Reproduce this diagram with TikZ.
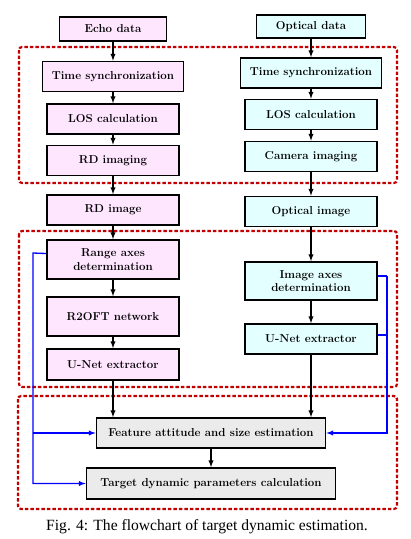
\documentclass[tikz,border=0pt]{standalone}
\usepackage{tikz}
\usepackage{fontspec}
\newfontfamily\capfont{Liberation Serif}
\usetikzlibrary{positioning, calc}

\definecolor{pinkfill}{RGB}{255,230,255}
\definecolor{cyanfill}{RGB}{228,255,255}
\definecolor{grayfill}{RGB}{235,235,235}
\definecolor{darkred}{RGB}{195,0,0}

\begin{document}
\begin{tikzpicture}[x=1pt, y=1pt]
		\tikzstyle{box}=[
		draw,
		line width=1.7pt,
		rectangle,
		align=center,
		font=\fontsize{11.5}{13.5}\selectfont\bfseries,
		minimum width=132pt,
		minimum height=30pt]
		\tikzstyle{pinkbox}=[box, fill=pinkfill]
		\tikzstyle{cyanbox}=[box, fill=cyanfill]
		\tikzstyle{graybox}=[box, fill=grayfill]
		\tikzstyle{arrow}=[-latex, line width=1.3pt]
		\tikzstyle{blueline}=[-latex, draw=blue, line width=1.3pt]
		\tikzstyle{group}=[
		draw=darkred,
		line width=2.2pt,
		dash pattern=on 3.5pt off 2pt,
		rounded corners=3pt]
		\useasboundingbox (0,0) rectangle (411,-539);
		%
		\node[pinkbox, minimum width=107pt, minimum height=24pt] (echo) at (113,-29) {Echo data};
		\node[pinkbox, below of=echo, node distance=47.5pt, minimum width=141pt] (tsL) {Time synchronization};
		\node[pinkbox, below of=tsL, node distance=42.5pt] (losL) {LOS calculation};
		\node[pinkbox, below of=losL, node distance=41.5pt] (rdimg) {RD imaging};
		\node[pinkbox, below of=rdimg, node distance=49.5pt] (rdimage) {RD image};
		\node[pinkbox, below of=rdimage, node distance=49.5pt, minimum height=39pt] (rangeL) {Range axes\\determination};
		\node[pinkbox, below of=rangeL, node distance=57pt, minimum height=39pt] (r2oft) {R2OFT network};
		\node[pinkbox, below of=r2oft, node distance=48pt, minimum height=31pt] (unetL) {U-Net extractor};
		%
		\node[cyanbox, minimum width=109pt, minimum height=23pt] (optdata) at (311,-26.5) {Optical data};
		\node[cyanbox, below of=optdata, node distance=46.5pt, minimum width=141pt] (tsR) {Time synchronization};
		\node[cyanbox, below of=tsR, node distance=41.5pt] (losR) {LOS calculation};
		\node[cyanbox, below of=losR, node distance=42pt] (cam) {Camera imaging};
		\node[cyanbox, below of=cam, node distance=55pt] (optimage) {Optical image};
		\node[cyanbox, below of=optimage, node distance=69.5pt, minimum height=38pt] (imgaxes) {Image axes\\determination};
		\node[cyanbox, below of=imgaxes, node distance=58pt] (unetR) {U-Net extractor};
		%
		\node[graybox, minimum width=229pt] (feature) at (211,-433) {Feature attitude and size estimation};
		\node[graybox, below of=feature, node distance=50.5pt, minimum width=249pt, minimum height=31pt] (target) {Target dynamic parameters calculation};
		%
		\draw[group] (19,-47) rectangle (397,-183);
		\draw[group] (19,-231) rectangle (397,-387);
		\draw[group] (18,-396) rectangle (397,-509);
		%
		\draw[arrow] (echo) -- (tsL);
		\draw[arrow] (tsL) -- (losL);
		\draw[arrow] (losL) -- (rdimg);
		\draw[arrow] (rdimg) -- (rdimage);
		\draw[arrow] (rdimage) -- (rangeL);
		\draw[arrow] (rangeL) -- (r2oft);
		\draw[arrow] (r2oft) -- (unetL);
		\draw[arrow] (unetL) -- (unetL |- feature.north);
		\draw[arrow] (optdata) -- (tsR);
		\draw[arrow] (tsR) -- (losR);
		\draw[arrow] (losR) -- (cam);
		\draw[arrow] (cam) -- (optimage);
		\draw[arrow] (optimage) -- (imgaxes);
		\draw[arrow] (imgaxes) -- (unetR);
		\draw[arrow] (unetR) -- (unetR |- feature.north);
		\draw[arrow] (feature) -- (target);
		%
		\coordinate (busL) at (33,-253);
		\coordinate (busR) at (387,-276);
		\draw[blueline] ([yshift=6pt]rangeL.west) -- (busL) |- (target.west);
		\draw[blueline] (busL |- feature.west) -- (feature.west);
		\draw[blueline, -] ([yshift=5pt]imgaxes.east) -- (busR);
		\draw[blueline, -] ([yshift=4pt]unetR.east) -- ++(10pt,0);
		\draw[blueline] (busR) |- (feature.east);
		%
		\node[font=\capfont\fontsize{15.6}{18}\selectfont] (caption) at (207,-527) {Fig. 4: The flowchart of target dynamic estimation.};
	\end{tikzpicture}
\end{document}
